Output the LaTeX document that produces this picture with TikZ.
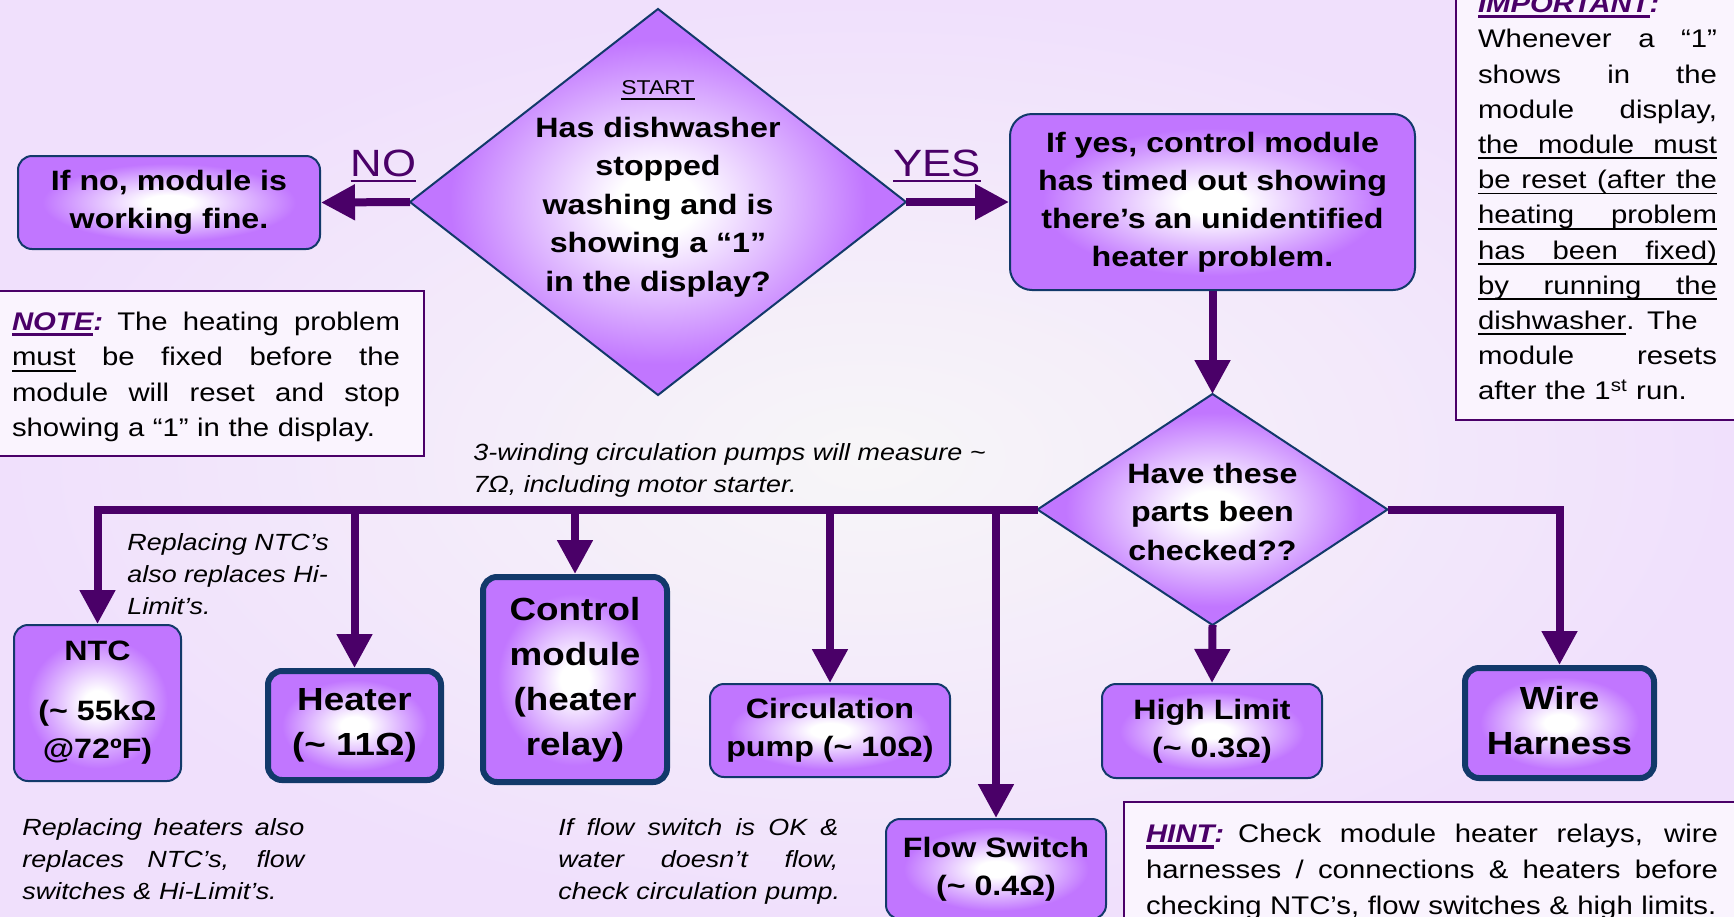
\documentclass[tikz,border=0pt]{standalone}
\usepackage{fontspec}
\setmainfont{Liberation Sans}[FakeStretch=1.15]
\usetikzlibrary{arrows.meta,positioning,shapes.geometric}
\definecolor{FlowPurple}{HTML}{4A0068}
\definecolor{EdgeNavy}{HTML}{12396A}
\definecolor{BoxPurple}{HTML}{C176FF}
\definecolor{NoteFill}{HTML}{FAF4FE}
\definecolor{BgLavender}{HTML}{F0E0FC}
\definecolor{BgGrey}{HTML}{F7F6F8}
\pgfdeclareradialshading{glow}{\pgfpoint{0bp}{0bp}}{color(0bp)=(white); color(4bp)=(white); color(21bp)=(BoxPurple); color(50bp)=(BoxPurple)}
\newcommand{\tld}{\textasciitilde}
% underline with a chosen thickness
\newcommand{\undl}[2][0.9pt]{\setbox0=\hbox{#2}\leavevmode\rlap{\rule[-2.9pt]{\wd0}{#1}}\box0\relax}
% one justified line of a note
\newcommand{\jline}[1]{\makebox[\hsize][s]{\spaceskip=\fontdimen2\font plus 1fil\relax #1}}
\newcommand{\notehead}[1]{{\color{FlowPurple}\bfseries\itshape\undl[1.7pt]{#1}:}\hspace{0.55em}}
\tikzset{
  partbox/.style={draw=EdgeNavy, line width=1pt, rounded corners=7pt,
    shading=glow, shade, align=center, inner sep=0pt,
    font=\bfseries\fontsize{14pt}{19pt}\selectfont},
  keybox/.style={partbox, line width=3pt,
    font=\bfseries\fontsize{16pt}{22.5pt}\selectfont},
  decision/.style={diamond, draw=EdgeNavy, line width=1pt, inner sep=0pt, outer sep=0pt,
    shading=glow, shade},
  asktext/.style={align=center, inner sep=0pt, font=\bfseries\fontsize{14pt}{19.2pt}\selectfont},
  flow/.style={-{Triangle[length=17pt,width=17pt]}, line width=4pt, FlowPurple},
  notebox/.style={draw=FlowPurple, line width=1pt, fill=NoteFill, align=left,
    font=\fontsize{12.75pt}{17.6pt}\selectfont},
  remark/.style={align=left, inner sep=0pt, font=\itshape\fontsize{11.7pt}{16pt}\selectfont},
  answer/.style={font=\fontsize{19pt}{21pt}\selectfont, inner sep=1pt}
}
\begin{document}
\begin{tikzpicture}[x=0.5pt, y=-0.5pt, node distance=51.5pt]
  \useasboundingbox (0,0) rectangle (1734,916);
  \clip (0,0) rectangle (1734,916);
  \shade[inner color=BgGrey, outer color=BgLavender] (0,0) rectangle (1734,916);

  % top row
  \node[decision, minimum width=248pt, minimum height=193pt] (start) at (658,202) {};
  \node[asktext] (starttext) at (658,188.5)
    {{\fontsize{10pt}{10pt}\selectfont\mdseries\undl[0.8pt]{START}}\\[2.5pt]Has dishwasher\\stopped\\washing and is\\showing a “1”\\in the display?};
  \node[partbox, minimum width=151pt, minimum height=46.5pt] (nobox) at (169,202.5)
    {If no, module is\\working fine.};
  \node[partbox, rounded corners=11pt, minimum width=202.5pt, minimum height=88pt] (yesbox) at (1212.5,202)
    {If yes, control module\\has timed out showing\\there’s an unidentified\\heater problem.};

  \node[decision, minimum width=175pt, minimum height=115.5pt, below=of yesbox] (check) {};
  \node[asktext] (checktext) at ([yshift=-1.1pt]check.center) {Have these\\parts been\\checked??};

  % parts to check
  \node[partbox, minimum width=83.5pt, minimum height=78pt] (ntc) at (97.5,703)
    {NTC\\[11pt](\tld{} 55kΩ\\@72ºF)};
  \node[keybox, minimum width=86.5pt, minimum height=54.5pt] (heater) at (354.5,725.5)
    {Heater\\(\tld{} 11Ω)};
  \node[keybox, minimum width=92pt, minimum height=102.5pt] (relay) at (575,679.5)
    {Control\\module\\(heater\\relay)};
  \node[partbox, minimum width=120pt, minimum height=46.5pt] (pump) at (830,730.5)
    {Circulation\\pump (\tld{} 10Ω)};
  \node[partbox, minimum width=110pt, minimum height=50pt] (flowsw) at (996,869)
    {Flow Switch\\(\tld{} 0.4Ω)};
  \node[partbox, minimum width=110pt, minimum height=47pt] (hilimit) at (1212,731)
    {High Limit\\(\tld{} 0.3Ω)};
  \node[keybox, minimum width=94.5pt, minimum height=55pt] (harness) at (1559.5,723)
    {Wire\\Harness\rule[-3pt]{0pt}{3pt}};

  \draw[flow] (start.west) -- node[answer, pos=0.3, above=7pt] (no) {\undl[1.2pt]{NO}} (nobox.east);
  \draw[flow] (start.east) -- node[answer, pos=0.3, above=7pt] (yes) {\undl[1.2pt]{YES}} (yesbox.west);
  \draw[flow] (yesbox.south) -- (check.north);
  \coordinate (bus) at (check.west);
  \draw[flow] (bus) -| (ntc.north);
  \foreach \part in {heater,relay,pump,flowsw}
    \draw[flow] (\part.north |- bus) -- (\part.north);
  \draw[flow] (check.south) -- (hilimit.north);
  \draw[flow] (check.east) -| (harness.north);

  % notes
  \node[notebox, text width=194pt, inner xsep=12pt, minimum height=82.5pt] (note) at (206,373.5)
    {\jline{\rule{0pt}{12.6pt}\notehead{NOTE}The heating problem}\\
     \jline{\undl{must} be fixed before the}\\
     \jline{module will reset and stop}\\
     showing a “1” in the display.};
  \node[notebox, text width=119.5pt, inner xsep=11pt, minimum height=222.5pt] (important) at (1597.5,197.5)
    {\notehead{IMPORTANT}\\
     \jline{Whenever a “1”}\\
     \jline{shows in the}\\
     \jline{module display,}\\
     \undl{\jline{the module must}}\\
     \undl{\jline{be reset (after the}}\\
     \undl{\jline{heating problem}}\\
     \undl{\jline{has been fixed)}}\\
     \undl{\jline{by running the}}\\
     \jline{\undl{dishwasher}. The}\\
     \jline{module resets}\\
     after the 1\textsuperscript{st} run.};
  \node[notebox, text width=286pt, inner xsep=11pt, minimum height=70.3pt,
    font=\fontsize{12.75pt}{18pt}\selectfont] (hint) at (1432,872.3)
    {\jline{\notehead{HINT}Check module heater relays, wire}\\
     \jline{harnesses / connections \& heaters before}\\
     \mbox{checking NTC’s, flow switches \& high limits.}};

  \node[remark, anchor=west] (pumpnote) at (473,470.3)
    {3-winding circulation pumps will measure \tld\\7Ω, including motor starter.};
  \node[remark, anchor=west] (ntcnote) at (127,574)
    {Replacing NTC’s\\also replaces Hi-\\Limit’s.};
  \node[remark, text width=141pt, anchor=west] (heaternote) at (22,859)
    {\jline{Replacing heaters also}\\\jline{replaces NTC’s, flow}\\\mbox{switches \& Hi-Limit’s.}};
  \node[remark, text width=140pt, anchor=west] (flownote) at (558,861)
    {\jline{If flow switch is OK \&}\\\jline{water doesn’t flow,}\\\mbox{check circulation pump.}};
\end{tikzpicture}
\end{document}
